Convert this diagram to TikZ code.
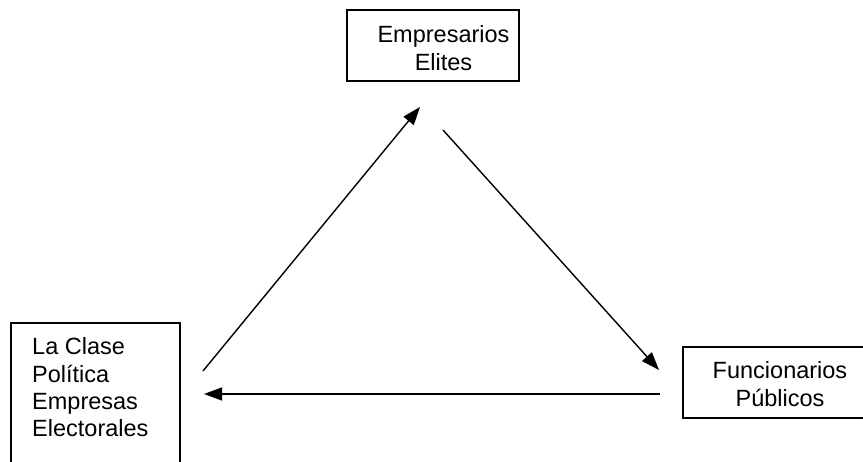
\documentclass[tikz,border=0pt]{standalone}
\usepackage{fontspec}
\setmainfont{Liberation Sans}
\usetikzlibrary{arrows.meta}
\begin{document}
\begin{tikzpicture}[x=1pt,y=-1pt,
  boxed/.style={draw=black,line width=1.6pt,inner sep=0pt,rectangle},
  txt/.style={inner sep=0pt,font=\fontsize{23.5}{27.5}\selectfont},
  arr/.style={line width=1.4pt,-{Triangle[length=18pt,width=13pt]}}]
\useasboundingbox (0,0) rectangle (863,462);
\clip (0,0) rectangle (863,462);
% boxes
\node[boxed,minimum width=172pt,minimum height=71pt] (top) at (433,45.5) {};
\node[boxed,minimum width=169pt,minimum height=170pt] (left) at (95.5,408) {};
\node[boxed,minimum width=200pt,minimum height=71pt] (right) at (783,382.5) {};
% texts
\node[txt,anchor=base] (t1) at (443.5,43) {Empresarios};
\node[txt,anchor=base] (t2) at (443.5,71) {Elites};
\node[txt,anchor=base west] (l1) at (32,355) {La Clase};
\node[txt,anchor=base west] (l2) at (32,383) {Política};
\node[txt,anchor=base west] (l3) at (32,410) {Empresas};
\node[txt,anchor=base west] (l4) at (32,437) {Electorales};
\node[txt,anchor=base] (r1) at (780,379) {Funcionarios};
\node[txt,anchor=base] (r2) at (780,407) {Públicos};
% connector ends
\coordinate (a0) at (203,371);
\coordinate (a1) at (420,107);
\coordinate (b0) at (443,130);
\coordinate (b1) at (659,370);
\coordinate (c0) at (660,394);
\coordinate (c1) at (204,394);
\draw[arr] (a0) -- (a1);
\draw[arr] (b0) -- (b1);
\draw[arr] (c0) -- (c1);
\end{tikzpicture}
\end{document}
